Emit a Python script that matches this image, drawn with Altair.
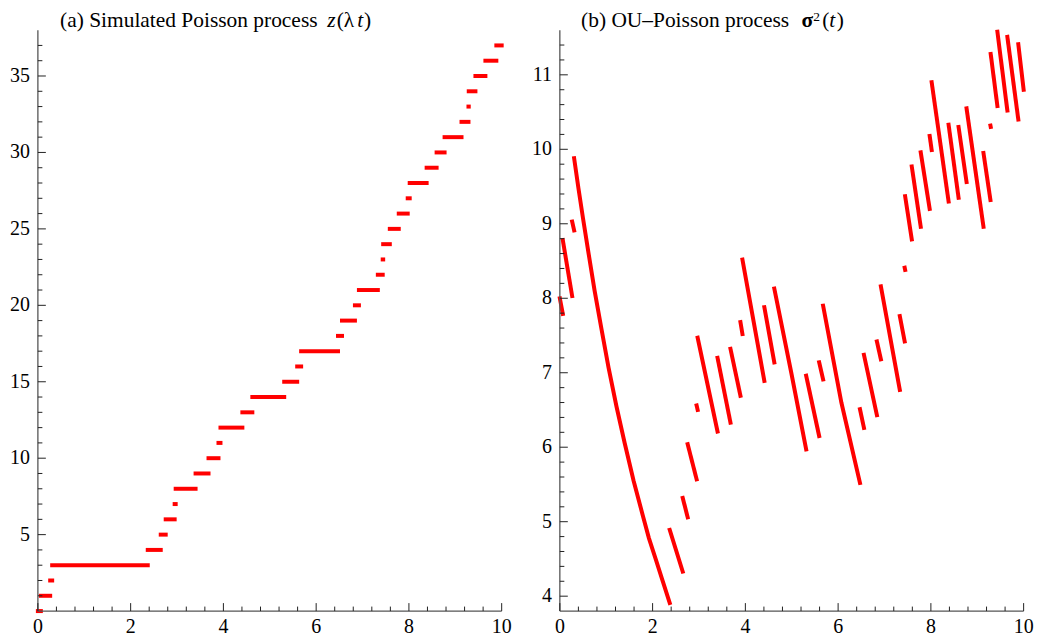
import altair as alt
import pandas as pd

# ---------------- data ----------------
# jump times of the Poisson process (t at which z jumps by 1)
jump_t = [0.064, 0.265, 0.308, 2.369, 2.649, 2.756, 2.949, 2.971, 3.400, 3.679,
          3.894, 3.937, 4.409, 4.624, 5.311, 5.591, 5.676, 6.471, 6.557, 6.836,
          6.922, 7.330, 7.435, 7.445, 7.588, 7.781, 7.974, 8.017, 8.382, 8.597,
          8.769, 9.134, 9.284, 9.290, 9.434, 9.649, 9.885]
t_first = 0.0
t_last = 10.0
z_levels = list(range(0, 38))

# OU-Poisson process: value just after each jump and just before the next one
sig_start = [8.00, 8.78, 9.03, 9.88, 4.89, 5.32, 6.04, 6.56, 7.47, 7.20,
             7.32, 7.68, 8.52, 7.88, 8.13, 6.96, 7.14, 7.90, 6.51, 7.24,
             7.42, 8.16, 7.76, 8.41, 9.37, 9.77, 9.96, 10.18, 10.90, 10.33,
             10.30, 10.55, 9.95, 10.32, 11.28, 11.58, 11.51, 11.41]
sig_end = [7.79, 8.03, 8.91, 3.91, 4.33, 5.06, 5.57, 6.50, 6.21, 6.33,
           6.69, 7.52, 6.89, 7.14, 5.97, 6.15, 6.91, 5.52, 6.26, 6.43,
           7.18, 6.77, 7.42, 8.38, 8.79, 8.96, 9.20, 9.99, 9.30, 9.35,
           9.56, 8.96, 9.32, 10.30, 10.58, 10.52, 10.40, 10.80]
# extra points read along the longer (curved) decays: segment index, t, value
mid_seg = [3, 3, 3, 3, 3, 3, 3, 3, 3, 3, 3, 3, 3, 14, 17]
mid_t = [0.40, 0.50, 0.62, 0.75, 0.90, 1.05, 1.22, 1.40, 1.59, 1.79, 1.92, 2.06, 2.22,
         4.99, 6.07]
mid_v = [9.48, 9.07, 8.60, 8.10, 7.58, 7.07, 6.55, 6.05, 5.55, 5.08, 4.78, 4.51, 4.20,
         7.00, 6.60]

# axis ticks / labels
x_labels = [0, 2, 4, 6, 8, 10]
x_minor = [m + k * 0.4 for m in range(0, 10, 2) for k in (1, 2, 3, 4)]
ya_labels = [5, 10, 15, 20, 25, 30, 35]
ya_minor = [v for v in range(1, 38) if v % 5]
yb_labels = [4, 5, 6, 7, 8, 9, 10, 11]
yb_minor = [round(4 + k * 0.2, 1) for k in range(1, 38) if k % 5]

# ---------------- layout / style ----------------
W, H = 465.6, 583.2
RED = "#ff0000"
FONT = "Liberation Serif"
AXC = "#555555"
TKC = "#222222"
MAJ, MIN = 8, 4.5
LAB = 20
TIT = 21.5
TB = -3.0  # title baseline relative to plot top

T = [t_first] + jump_t + [t_last]
steps_df = pd.DataFrame({"t0": T[:-1], "t1": T[1:], "z": z_levels})

rows = []
for i in range(len(sig_start)):
    rows.append({"seg": i, "t": T[i], "v": sig_start[i]})
    for s, tt, vv in zip(mid_seg, mid_t, mid_v):
        if s == i:
            rows.append({"seg": i, "t": tt, "v": vv})
    rows.append({"seg": i, "t": T[i + 1], "v": sig_end[i]})
ou_df = pd.DataFrame(rows)

xs = alt.Scale(domain=[0, 10], nice=False, zero=False)
ysa = alt.Scale(domain=[0, 38], nice=False, zero=False)
ysb = alt.Scale(domain=[3.8, 11.6], nice=False, zero=False)

one = pd.DataFrame({"k": [0]})


def axis_lines():
    xl = alt.Chart(one).mark_rule(color=AXC, strokeWidth=1.3).encode(
        x=alt.value(0), x2=alt.value(W), y=alt.value(H))
    yl = alt.Chart(one).mark_rule(color=AXC, strokeWidth=1.3).encode(
        x=alt.value(0), y=alt.value(0), y2=alt.value(H))
    return [xl, yl]


def xticks(vals, length):
    return alt.Chart(pd.DataFrame({"v": vals})).mark_rule(color=TKC, strokeWidth=1).encode(
        x=alt.X("v:Q", scale=xs, axis=None), y=alt.value(H), y2=alt.value(H - length))


def yticks(vals, length, scale):
    return alt.Chart(pd.DataFrame({"v": vals})).mark_rule(color=TKC, strokeWidth=1).encode(
        y=alt.Y("v:Q", scale=scale, axis=None), x=alt.value(0), x2=alt.value(length))


def xlabels():
    return alt.Chart(pd.DataFrame({"v": x_labels})).mark_text(
        font=FONT, fontSize=LAB, color="black", align="center", baseline="top").encode(
        x=alt.X("v:Q", scale=xs, axis=None), y=alt.value(H + 6),
        text=alt.Text("v:Q", format="d"))


def ylabels(vals, scale):
    return alt.Chart(pd.DataFrame({"v": vals})).mark_text(
        font=FONT, fontSize=LAB, color="black", align="right", baseline="middle").encode(
        y=alt.Y("v:Q", scale=scale, axis=None), x=alt.value(-8),
        text=alt.Text("v:Q", format="d"))


def piece(txt, px, py=TB, italic=False, size=TIT, bold=False):
    return alt.Chart(pd.DataFrame({"s": [txt]})).mark_text(
        font=FONT, fontSize=size, fontStyle="italic" if italic else "normal",
        fontWeight="bold" if bold else "normal",
        align="left", baseline="alphabetic", color="black").encode(
        text="s:N", x=alt.value(px), y=alt.value(py))


steps = alt.Chart(steps_df).mark_rule(color=RED, strokeWidth=4, strokeCap="square").encode(
    x=alt.X("t0:Q", scale=xs, axis=None), x2="t1:Q",
    y=alt.Y("z:Q", scale=ysa, axis=None))

left = alt.layer(
    steps,
    *axis_lines(),
    xticks(x_labels, MAJ), xticks(x_minor, MIN),
    yticks(ya_labels, MAJ, ysa), yticks(ya_minor, MIN, ysa),
    xlabels(), ylabels(ya_labels, ysa),
    piece("(a) Simulated Poisson process", 22.3),
    piece("z", 290.5, italic=True),
    piece("(", 300.0), piece("λ", 307.0), piece("t", 320.5, italic=True), piece(")", 327.5),
).properties(width=W, height=H)

ou = alt.Chart(ou_df).mark_line(color=RED, strokeWidth=4, strokeCap="square").encode(
    x=alt.X("t:Q", scale=xs, axis=None),
    y=alt.Y("v:Q", scale=ysb, axis=None),
    detail="seg:N", order="t:Q")

right = alt.layer(
    ou,
    *axis_lines(),
    xticks(x_labels, MAJ), xticks(x_minor, MIN),
    yticks(yb_labels, MAJ, ysb), yticks(yb_minor, MIN, ysb),
    xlabels(), ylabels(yb_labels, ysb),
    piece("(b) OU–Poisson process", 21.3),
    piece("σ", 242.5, size=21.5, bold=True), piece("2", 254.5, py=-9.5, size=13.5),
    piece("(", 263.5), piece("t", 270.5, italic=True), piece(")", 278.0),
).properties(width=W, height=H)

chart = alt.hconcat(left, right, spacing=20).properties(
    padding={"left": 2, "top": 0, "right": 0, "bottom": 0},
    background="white",
).configure_view(stroke=None)

chart.save("out.html", embed_options={"renderer": "svg", "actions": False})
